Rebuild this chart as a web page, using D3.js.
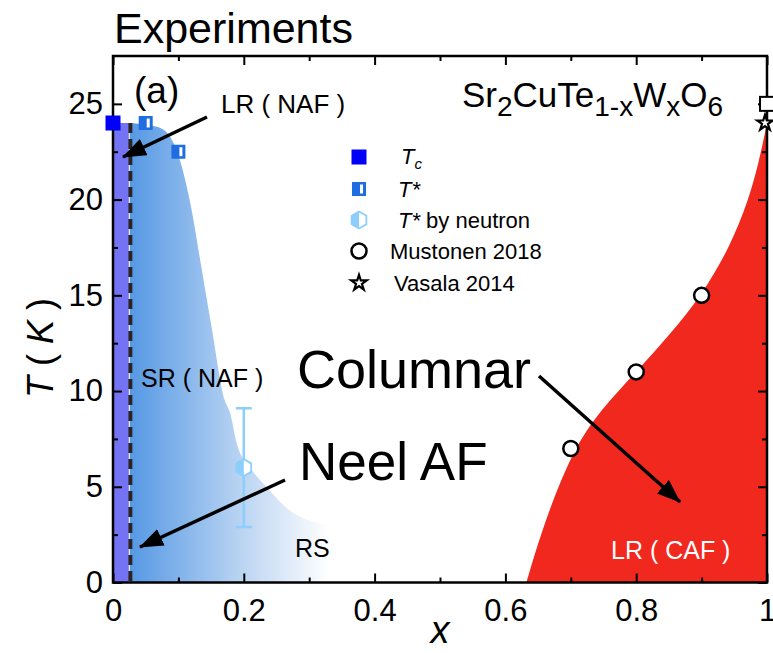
<!DOCTYPE html>
<html>
<head>
<meta charset="utf-8">
<script src="https://cdn.jsdelivr.net/npm/d3@7/dist/d3.min.js"></script>
<style>
  html, body { margin: 0; padding: 0; background: #fff; }
  svg { display: block; font-family: "Liberation Sans", Arial, Helvetica, sans-serif; }
</style>
</head>
<body>
<svg id="chart" width="773" height="653"></svg>
<script>
// ---- data ----
const xMajorTicks = [0, 0.2, 0.4, 0.6, 0.8, 1];
const xTickLabels = ["0", "0.2", "0.4", "0.6", "0.8", "1"];
const xMinorTicks = [0.1, 0.3, 0.5, 0.7, 0.9];
const yMajorTicks = [0, 5, 10, 15, 20, 25];
const yMinorTicks = [2.5, 7.5, 12.5, 17.5, 22.5];

// measured transition points
const tcX = [0];          const tcY = [24];
const tStarX = [0.05, 0.1]; const tStarY = [24, 22.5];
const neutronX = [0.2];   const neutronY = [6];
const neutronLo = [2.9];  const neutronHi = [9.1];
const mustonenX = [0.7, 0.8, 0.9]; const mustonenY = [7, 11, 15];
const openSquareX = [1];  const openSquareY = [25];
const vasalaX = [1];      const vasalaY = [24];

// phase regions
const lrNafEdgeX = 0.025;   // long-range Neel AF strip, 0 <= x <= 0.025
const lrNafTop = 24;
const srBoundaryX = [0.025, 0.067, 0.087, 0.102, 0.12, 0.133, 0.15, 0.171, 0.179, 0.189, 0.209, 0.235, 0.27, 0.316, 0.4];
const srBoundaryT = [24.0, 23.8, 23.3, 22.1, 19.5, 16.9, 13.5, 9.5, 8.86, 7.29, 6.03, 4.98, 3.77, 3.09, 2.8];
const srFadeEndX = 0.33;
const cafBoundaryX = [0.632, 0.632, 0.661, 0.703, 0.745, 0.800, 0.853, 0.900, 0.943, 0.972, 0.988, 1.0, 1.0];
const cafBoundaryT = [0, 0, 3.3, 6.9, 9.0, 11.0, 13.0, 15.0, 17.5, 20.0, 22.0, 24.0, 24.0];

const svg = d3.select("#chart");

const x = d3.scaleLinear().domain([0, 1]).range([113, 767]);
const y = d3.scaleLinear().domain([0, 27.5]).range([582.5, 56]);

const defs = svg.append("defs");

// gradient of the short-range region
const grad = defs.append("linearGradient")
  .attr("id", "srGrad").attr("gradientUnits", "userSpaceOnUse")
  .attr("x1", x(lrNafEdgeX)).attr("x2", x(srFadeEndX)).attr("y1", 0).attr("y2", 0);
grad.append("stop").attr("offset", "0%").attr("stop-color", "#5598e4");
grad.append("stop").attr("offset", "55%").attr("stop-color", "#b8d3f2");
grad.append("stop").attr("offset", "100%").attr("stop-color", "#ffffff");

// arrowhead
defs.append("marker")
  .attr("id", "arrow").attr("markerUnits", "userSpaceOnUse")
  .attr("viewBox", "0 0 24 18").attr("refX", 23).attr("refY", 9)
  .attr("markerWidth", 24).attr("markerHeight", 18).attr("orient", "auto")
  .append("path").attr("d", "M0,0 L24,9 L0,18 Z").attr("fill", "#000");

const plot = svg.append("g");

// short-range NAF region (blue gradient)
const srPts = srBoundaryX.map((v, i) => [v, srBoundaryT[i]]);
const srArea = d3.area()
  .x(d => x(d[0])).y0(y(0)).y1(d => y(d[1]))
  .curve(d3.curveMonotoneX);
plot.append("path").datum(srPts).attr("d", srArea).attr("fill", "url(#srGrad)");

// long-range NAF strip
plot.append("rect")
  .attr("x", x(0)).attr("y", y(lrNafTop))
  .attr("width", x(lrNafEdgeX) - x(0)).attr("height", y(0) - y(lrNafTop))
  .attr("fill", "#7373f4");
plot.append("line")
  .attr("x1", x(lrNafEdgeX)).attr("x2", x(lrNafEdgeX))
  .attr("y1", y(lrNafTop)).attr("y2", y(0))
  .attr("stroke", "#e4e4ff").attr("stroke-width", 1.2);

// columnar AF region (red)
const cafPts = cafBoundaryX.map((v, i) => [v, cafBoundaryT[i]]);
const cafLine = d3.line().x(d => x(d[0])).y(d => y(d[1])).curve(d3.curveBasis);
plot.append("path")
  .attr("d", cafLine(cafPts) + `L${x(1)},${y(0)}Z`)
  .attr("fill", "#f1281e");

// dashed boundary of the LR strip
plot.append("line")
  .attr("x1", x(lrNafEdgeX) + 1).attr("x2", x(lrNafEdgeX) + 1)
  .attr("y1", y(lrNafTop)).attr("y2", y(0))
  .attr("stroke", "#2a2426").attr("stroke-width", 4)
  .attr("stroke-dasharray", "10,6");

// ---- axes ----
const tickFont = 31;
function styleAxis(g) {
  g.select(".domain").remove();
  g.selectAll("line").attr("stroke", "#000").attr("stroke-width", 2);
  g.selectAll("text").attr("font-size", tickFont).attr("fill", "#000")
    .attr("font-family", "'Liberation Sans', Arial, Helvetica, sans-serif");
}
const bottom = svg.append("g").attr("transform", `translate(0,${y(0)})`)
  .call(d3.axisBottom(x).tickValues(xMajorTicks).tickSize(-9).tickPadding(16)
    .tickFormat((d, i) => xTickLabels[i]));
styleAxis(bottom);
svg.append("g").attr("transform", `translate(0,${y(0)})`)
  .call(d3.axisBottom(x).tickValues(xMinorTicks).tickSize(-5).tickFormat(""))
  .call(styleAxis);
svg.append("g").attr("transform", `translate(0,${y(27.5)})`)
  .call(d3.axisTop(x).tickValues(xMajorTicks).tickSize(-9).tickFormat(""))
  .call(styleAxis);
svg.append("g").attr("transform", `translate(0,${y(27.5)})`)
  .call(d3.axisTop(x).tickValues(xMinorTicks).tickSize(-5).tickFormat(""))
  .call(styleAxis);
const left = svg.append("g").attr("transform", `translate(${x(0)},0)`)
  .call(d3.axisLeft(y).tickValues(yMajorTicks).tickSize(-9).tickPadding(10));
styleAxis(left);
svg.append("g").attr("transform", `translate(${x(0)},0)`)
  .call(d3.axisLeft(y).tickValues(yMinorTicks).tickSize(-5).tickFormat(""))
  .call(styleAxis);
svg.append("g").attr("transform", `translate(${x(1)},0)`)
  .call(d3.axisRight(y).tickValues(yMajorTicks).tickSize(-9).tickFormat(""))
  .call(styleAxis);
svg.append("g").attr("transform", `translate(${x(1)},0)`)
  .call(d3.axisRight(y).tickValues(yMinorTicks).tickSize(-5).tickFormat(""))
  .call(styleAxis);

// frame
svg.append("rect")
  .attr("x", x(0)).attr("y", y(27.5))
  .attr("width", x(1) - x(0)).attr("height", y(0) - y(27.5))
  .attr("fill", "none").attr("stroke", "#000").attr("stroke-width", 2.5);

// axis titles
svg.append("text").attr("x", x(0.5)).attr("y", 643).attr("text-anchor", "middle")
  .attr("font-size", 38).attr("font-style", "italic").text("x");
const yt = svg.append("text")
  .attr("transform", "translate(53,348) rotate(-90)")
  .attr("text-anchor", "middle").attr("font-size", 36);
yt.append("tspan").attr("font-style", "italic").text("T");
yt.append("tspan").text(" ( ");
yt.append("tspan").attr("font-style", "italic").text("K");
yt.append("tspan").text(" )");

// ---- markers ----
const starPath = d3.symbol().type(d3.symbolStar).size(75)();
function hexPath(r) {
  const pts = d3.range(6).map(k => {
    const a = Math.PI / 2 + k * Math.PI / 3;
    return [r * Math.cos(a), -r * Math.sin(a)];
  });
  return "M" + pts.map(p => p.join(",")).join("L") + "Z";
}
function drawTc(g, cx, cy) {
  g.append("rect").attr("x", cx - 7.5).attr("y", cy - 7.5).attr("width", 15).attr("height", 15)
    .attr("fill", "#0000fa");
}
function drawTStar(g, cx, cy) {
  g.append("rect").attr("x", cx - 7).attr("y", cy - 7).attr("width", 14).attr("height", 14)
    .attr("fill", "#1e6ee1");
  g.append("rect").attr("x", cx + 1).attr("y", cy - 4.5).attr("width", 3).attr("height", 9)
    .attr("fill", "#fff");
}
function drawHex(g, cx, cy) {
  const r = 8.5;
  g.append("path").attr("transform", `translate(${cx},${cy})`).attr("d", hexPath(r))
    .attr("fill", "#fff").attr("stroke", "#8ccffc").attr("stroke-width", 1.8);
  g.append("path").attr("transform", `translate(${cx},${cy})`)
    .attr("d", `M0,${-r} L${-r * Math.cos(Math.PI / 6)},${-r / 2} L${-r * Math.cos(Math.PI / 6)},${r / 2} L0,${r} Z`)
    .attr("fill", "#8ccffc");
}
function drawCircle(g, cx, cy) {
  g.append("circle").attr("cx", cx).attr("cy", cy).attr("r", 7.5)
    .attr("fill", "#fff").attr("stroke", "#000").attr("stroke-width", 2.5);
}
function drawStar(g, cx, cy) {
  g.append("path").attr("transform", `translate(${cx},${cy})`).attr("d", starPath)
    .attr("fill", "#fff").attr("stroke", "#000").attr("stroke-width", 2.2);
}

const marks = svg.append("g");
// neutron error bar
neutronX.forEach((v, i) => {
  const cx = x(v);
  marks.append("line").attr("x1", cx).attr("x2", cx)
    .attr("y1", y(neutronLo[i])).attr("y2", y(neutronHi[i]))
    .attr("stroke", "#8ccffc").attr("stroke-width", 2.5);
  [neutronLo[i], neutronHi[i]].forEach(t => {
    marks.append("line").attr("x1", cx - 8).attr("x2", cx + 8)
      .attr("y1", y(t)).attr("y2", y(t))
      .attr("stroke", "#8ccffc").attr("stroke-width", 2.5);
  });
  drawHex(marks, cx, y(neutronY[i]));
});
tcX.forEach((v, i) => drawTc(marks, x(v), y(tcY[i])));
tStarX.forEach((v, i) => drawTStar(marks, x(v), y(tStarY[i])));
mustonenX.forEach((v, i) => drawCircle(marks, x(v), y(mustonenY[i])));
vasalaX.forEach((v, i) => drawStar(marks, x(v) - 2, y(vasalaY[i])));
openSquareX.forEach((v, i) => {
  marks.append("rect").attr("x", x(v) - 7).attr("y", y(openSquareY[i]) - 7)
    .attr("width", 14).attr("height", 14)
    .attr("fill", "#fff").attr("stroke", "#000").attr("stroke-width", 2);
});

// ---- legend ----
const lg = svg.append("g");
const legendX = 359;
const legendRows = [157, 189, 220, 251, 283];
drawTc(lg, legendX, legendRows[0]);
drawTStar(lg, legendX, legendRows[1]);
drawHex(lg, legendX, legendRows[2]);
drawCircle(lg, legendX, legendRows[3]);
drawStar(lg, legendX, legendRows[4]);
const lfs = 22;
const l0 = lg.append("text").attr("x", 401).attr("y", legendRows[0] + 7).attr("font-size", lfs);
l0.append("tspan").attr("font-style", "italic").text("T");
l0.append("tspan").attr("font-style", "italic").attr("font-size", 15).attr("dy", 5).text("c");
const l1 = lg.append("text").attr("x", 398).attr("y", legendRows[1] + 8).attr("font-size", lfs);
l1.append("tspan").attr("font-style", "italic").text("T*");
const l2 = lg.append("text").attr("x", 398).attr("y", legendRows[2] + 8).attr("font-size", lfs);
l2.append("tspan").attr("font-style", "italic").text("T*");
l2.append("tspan").text(" by neutron");
lg.append("text").attr("x", 390).attr("y", legendRows[3] + 8).attr("font-size", lfs).text("Mustonen 2018");
lg.append("text").attr("x", 394).attr("y", legendRows[4] + 8).attr("font-size", lfs).text("Vasala 2014");

// ---- annotations ----
const ann = svg.append("g");
ann.append("text").attr("x", 114).attr("y", 43).attr("font-size", 43).text("Experiments");
ann.append("text").attr("x", 134).attr("y", 103).attr("font-size", 37).text("(a)");
ann.append("text").attr("x", 221).attr("y", 113).attr("font-size", 26).text("LR ( NAF )");
ann.append("text").attr("x", 141).attr("y", 387).attr("font-size", 25).text("SR ( NAF )");
ann.append("text").attr("x", 295).attr("y", 557).attr("font-size", 25).text("RS");
ann.append("text").attr("x", 611).attr("y", 559).attr("font-size", 25).attr("fill", "#fff").text("LR ( CAF )");
ann.append("text").attr("x", 297).attr("y", 388).attr("font-size", 54).text("Columnar");
ann.append("text").attr("x", 299).attr("y", 480).attr("font-size", 53).text("Neel AF");

const formula = ann.append("text").attr("x", 462).attr("y", 107).attr("font-size", 35);
[["Sr", 0], ["2", 1], ["CuTe", 0], ["1-x", 1], ["W", 0], ["x", 1], ["O", 0], ["6", 1]].forEach(([t, sub], i, arr) => {
  const prevSub = i > 0 ? arr[i - 1][1] : 0;
  const dy = sub && !prevSub ? 9 : (!sub && prevSub ? -9 : 0);
  formula.append("tspan").attr("font-size", sub ? 28 : 35).attr("dy", dy).text(t);
});

// arrows
const arrows = [
  [[207, 117], [123, 157]],
  [[539, 376], [680, 502]],
  [[285, 480], [140, 547]]
];
arrows.forEach(([a, b]) => {
  ann.append("line").attr("x1", a[0]).attr("y1", a[1]).attr("x2", b[0]).attr("y2", b[1])
    .attr("stroke", "#000").attr("stroke-width", 3.5).attr("marker-end", "url(#arrow)");
});
</script>
</body>
</html>
